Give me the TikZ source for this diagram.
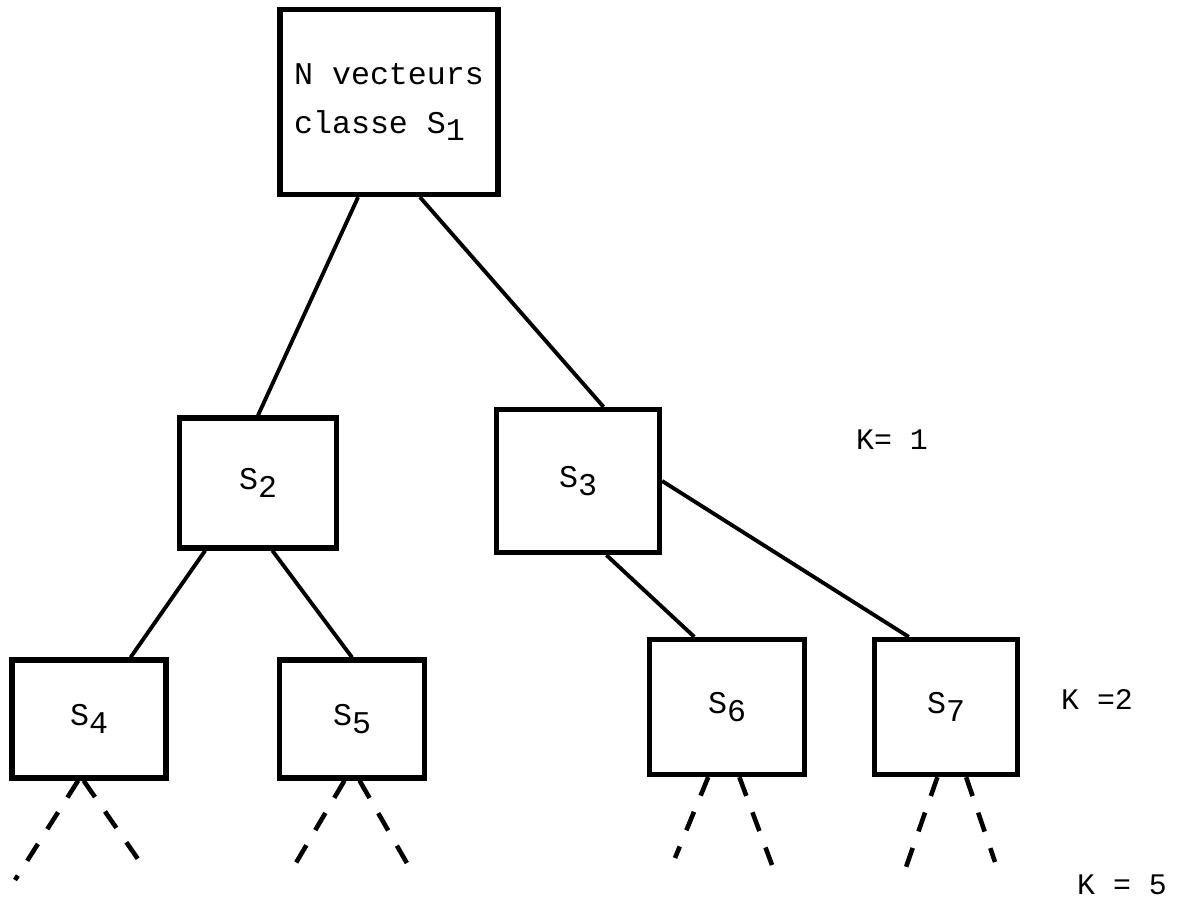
\documentclass[tikz,border=0pt]{standalone}
\usepackage{fontspec}
\setmonofont{Liberation Mono}
\usetikzlibrary{positioning}

\newcommand{\sub}[1]{\raisebox{-0.45ex}{#1}}

\begin{document}
\begin{tikzpicture}[x=0.02cm, y=-0.02cm,
    classbox/.style={draw, line width=3pt, inner sep=4pt, font=\fontsize{18}{28}\selectfont\ttfamily},
    branch/.style={line width=2.2pt},
    leaf/.style={line width=2.6pt, dash pattern=on 0.4cm off 0.35cm},
    level/.style={font=\fontsize{17}{20}\selectfont\ttfamily}]
    \useasboundingbox (0,0) rectangle (1185,908);

    % top class
    \node[classbox, minimum width=4.36cm, minimum height=3.7cm, align=left] (s1) at (389,102) {N vecteurs\\classe S\sub{1}};

    % first split
    \node[classbox, minimum width=3.14cm, minimum height=2.6cm] (s2) at (258,483) {S\sub{2}};
    \node[classbox, minimum width=3.26cm, minimum height=2.86cm] (s3) at (578,481) {S\sub{3}};

    % second split
    \node[classbox, minimum width=3.08cm, minimum height=2.36cm] (s4) at (89,719) {S\sub{4}};
    \node[classbox, minimum width=2.9cm, minimum height=2.36cm] (s5) at (352,719) {S\sub{5}};
    \node[classbox, minimum width=3.1cm, minimum height=2.7cm] (s6) at (727,707) {S\sub{6}};
    \node[classbox, minimum width=2.86cm, minimum height=2.7cm] (s7) at (946,707) {S\sub{7}};

    \draw[branch] (s1.-108) -- (s2.north);
    \draw[branch] (s1.-72) -- (s3.71);
    \draw[branch] (s2.-128) -- (s4.56);
    \draw[branch] (s2.-78) -- (s5.north);
    \draw[branch] (s3.-69) -- (s6.115);
    \draw[branch] (s3.east) -- (s7.118);

    % further splits
    \coordinate (e4a) at (15,880);
    \coordinate (e4b) at (140,862);
    \coordinate (e5a) at (290,873);
    \coordinate (e5b) at (408,865);
    \coordinate (e6a) at (675,858);
    \coordinate (e6b) at (772,865);
    \coordinate (e7a) at (905,870);
    \coordinate (e7b) at (995,862);
    \draw[leaf] (s4.-100) -- (e4a);
    \draw[leaf] (s4.-95) -- (e4b);
    \draw[leaf] (s5.-97) -- (e5a);
    \draw[leaf] (s5.-83) -- (e5b);
    \draw[leaf] (s6.-105) -- (e6a);
    \draw[leaf] (s6.-80) -- (e6b);
    \draw[leaf] (s7.-97) -- (e7a);
    \draw[leaf] (s7.-74) -- (e7b);

    % levels
    \node[level] (k1) at (892,440) {K= 1};
    \node[level] (k2) at (1097,700) {K =2};
    \node[level] (k5) at (1122,885) {K = 5};
\end{tikzpicture}
\end{document}
